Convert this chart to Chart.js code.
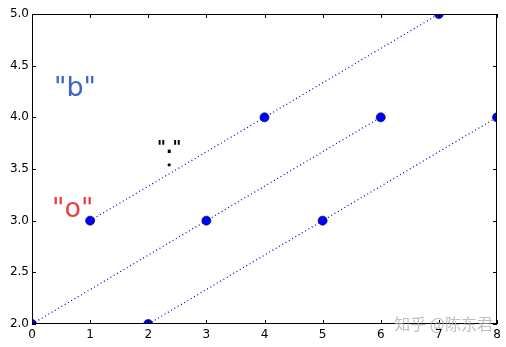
<!DOCTYPE html>
<html>
<head>
<meta charset="utf-8">
<script src="https://cdn.jsdelivr.net/npm/chart.js@4"></script>
<style>
  html, body { margin: 0; padding: 0; background: #fff; }
  #wrap { width: 506px; height: 347px; }
</style>
</head>
<body>
<div id="wrap"><canvas id="plot"></canvas></div>
<script>
// three dotted lines, every third point
const upper_x = [1, 4, 7];
const upper_y = [3, 4, 5];
const middle_x = [0, 3, 6];
const middle_y = [2, 3, 4];
const lower_x = [2, 5, 8];
const lower_y = [2, 3, 4];

// the lone small marker under the '"."' label
const dot_x = [2.36];
const dot_y = [3.54];

const x_ticks = [0, 1, 2, 3, 4, 5, 6, 7, 8];
const y_ticks = [2.0, 2.5, 3.0, 3.5, 4.0, 4.5, 5.0];

// text annotations, in data coordinates
const note_text = ['"b"', '"o"', '"."'];
const note_x = [0.74, 0.70, 2.36];
const note_y = [4.27, 3.10, 3.70];

const watermark = '知乎 @陈东君';

function toPoints(xs, ys) {
    return xs.map(function (x, i) { return { x: x, y: ys[i] }; });
}

function lineSet(xs, ys) {
    return {
        data: toPoints(xs, ys),
        showLine: true,
        borderColor: '#0000c0',
        borderWidth: 1.2,
        borderDash: [1, 2.8],
        pointRadius: 4.5,
        pointBackgroundColor: '#0000ff',
        pointBorderColor: '#000060',
        pointBorderWidth: 0.7,
        clip: 0
    };
}

// box + inward ticks on all four sides, like matplotlib classic
const framePlugin = {
    id: 'frame',
    afterDraw(chart) {
        const ctx = chart.ctx;
        const a = chart.chartArea;
        const xs = chart.scales.x, ys = chart.scales.y;
        ctx.save();
        ctx.strokeStyle = '#000';
        ctx.lineWidth = 1;
        ctx.strokeRect(a.left + 0.5, a.top + 0.5, a.right - a.left - 1, a.bottom - a.top - 1);
        ctx.beginPath();
        x_ticks.forEach(function (v) {
            const px = Math.round(xs.getPixelForValue(v)) + 0.5;
            ctx.moveTo(px, a.bottom); ctx.lineTo(px, a.bottom - 4);
            ctx.moveTo(px, a.top); ctx.lineTo(px, a.top + 4);
        });
        y_ticks.forEach(function (v) {
            const py = Math.round(ys.getPixelForValue(v)) + 0.5;
            ctx.moveTo(a.left, py); ctx.lineTo(a.left + 4, py);
            ctx.moveTo(a.right, py); ctx.lineTo(a.right - 4, py);
        });
        ctx.stroke();

        // annotations
        const colours = ['#3d62c8', '#e8403a', '#000'];
        const fonts = ['27px "DejaVu Sans"', '27px "DejaVu Sans"', 'bold 17px "DejaVu Sans"'];
        ctx.textAlign = 'center';
        ctx.textBaseline = 'middle';
        note_text.forEach(function (t, i) {
            ctx.fillStyle = colours[i];
            ctx.font = fonts[i];
            ctx.fillText(t, xs.getPixelForValue(note_x[i]), ys.getPixelForValue(note_y[i]));
        });

        // watermark
        ctx.font = '16px "Noto Sans CJK SC"';
        ctx.textAlign = 'right';
        ctx.fillStyle = 'rgba(170,170,170,0.75)';
        ctx.fillText(watermark, 493, 324);
        ctx.restore();
    }
};

const datasets = [
    lineSet(upper_x, upper_y),
    lineSet(middle_x, middle_y),
    lineSet(lower_x, lower_y),
    {
        data: toPoints(dot_x, dot_y),
        pointRadius: 1.6,
        pointBackgroundColor: '#000',
        pointBorderWidth: 0,
        showLine: false
    }
];

const canvas = document.getElementById('plot');
new Chart(canvas, {
    type: 'scatter',
    data: { datasets: datasets },
    options: {
        responsive: true,
        maintainAspectRatio: false,
        animation: false,
        events: [],
        layout: { padding: { top: 14, right: 9, left: 0, bottom: 0 } },
        plugins: { legend: { display: false }, tooltip: { enabled: false } },
        scales: {
            x: {
                type: 'linear', min: 0, max: 8,
                grid: { display: false, drawTicks: false },
                border: { display: false },
                afterBuildTicks: function (s) { s.ticks = x_ticks.map(function (v) { return { value: v }; }); },
                afterFit: function (s) { s.height = 23; },
                ticks: {
                    color: '#000', padding: 4,
                    font: { family: 'DejaVu Sans', size: 12 },
                    callback: function (v) { return String(v); }
                }
            },
            y: {
                type: 'linear', min: 2, max: 5,
                grid: { display: false, drawTicks: false },
                border: { display: false },
                afterBuildTicks: function (s) { s.ticks = y_ticks.map(function (v) { return { value: v }; }); },
                afterFit: function (s) { s.width = 32; },
                ticks: {
                    color: '#000', padding: 3,
                    font: { family: 'DejaVu Sans', size: 12 },
                    callback: function (v) { return Number(v).toFixed(1); }
                }
            }
        }
    },
    plugins: [framePlugin]
});
</script>
</body>
</html>
